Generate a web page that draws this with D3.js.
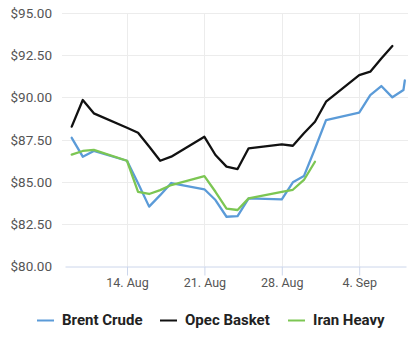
<!DOCTYPE html>
<html><head><meta charset="utf-8">
<script src="https://cdn.jsdelivr.net/npm/d3@7"></script>
<style>
html,body{margin:0;padding:0;background:#fff;}
svg{display:block;font-family:Roboto,"Noto Sans",sans-serif;}
</style></head>
<body>
<svg id="c" width="418" height="351"></svg>
<script>
// ---- data ----
const seriesNames = ["Brent Crude", "Opec Basket", "Iran Heavy"];
const seriesColors = ["#5b9bd8", "#111111", "#7cc653"];
const brentDates = ["2017-08-09","2017-08-10","2017-08-11","2017-08-14","2017-08-15","2017-08-16","2017-08-17","2017-08-18","2017-08-21","2017-08-22","2017-08-23","2017-08-24","2017-08-25","2017-08-28","2017-08-29","2017-08-30","2017-08-31","2017-09-01","2017-09-04","2017-09-05","2017-09-06","2017-09-07","2017-09-08T00:00","2017-09-08T03:00"];
const brentValues = [87.60,86.48,86.82,86.24,84.90,83.52,84.20,84.92,84.55,83.91,82.92,82.96,84.01,83.95,84.96,85.33,86.95,88.65,89.09,90.13,90.67,90.00,90.43,91.00];
const opecDates = ["2017-08-09","2017-08-10","2017-08-11","2017-08-14","2017-08-15","2017-08-16","2017-08-17","2017-08-18","2017-08-21","2017-08-22","2017-08-23","2017-08-24","2017-08-25","2017-08-28","2017-08-29","2017-08-30","2017-08-31","2017-09-01","2017-09-04","2017-09-05","2017-09-06","2017-09-07"];
const opecValues = [88.26,89.84,89.05,88.20,87.90,87.08,86.24,86.48,87.66,86.58,85.89,85.75,86.98,87.21,87.13,87.87,88.55,89.74,91.32,91.52,92.30,93.04];
const iranDates = ["2017-08-09","2017-08-10","2017-08-11","2017-08-14","2017-08-15","2017-08-16","2017-08-17","2017-08-18","2017-08-21","2017-08-22","2017-08-23","2017-08-24","2017-08-25","2017-08-28","2017-08-29","2017-08-30","2017-08-31"];
const iranValues = [86.60,86.82,86.88,86.24,84.40,84.27,84.50,84.80,85.33,84.40,83.40,83.32,84.01,84.40,84.52,85.10,86.18];
const yTicks = [80, 82.5, 85, 87.5, 90, 92.5, 95];
const xTickDates = ["2017-08-14","2017-08-21","2017-08-28","2017-09-04"];
const xTickLabels = ["14. Aug","21. Aug","28. Aug","4. Sep"];

// ---- layout ----
const svg = d3.select("#c");
const plotLeft = 65, plotRight = 406, plotTop = 13, plotBottom = 266;
const parse = s => new Date(s.length > 10 ? s + ":00" : s + "T00:00:00");

const x0 = d3.scaleTime().domain([parse("2017-08-14"), parse("2017-09-04")]).range([127, 359.2]);
const x = d3.scaleTime().domain([x0.invert(plotLeft), x0.invert(plotRight)]).range([plotLeft, plotRight]);
const y = d3.scaleLinear().domain([80, 95]).range([plotBottom, plotTop]);

// horizontal grid
svg.append("g").selectAll("line").data(yTicks.slice(1)).join("line")
  .attr("x1", 62).attr("x2", plotRight + 2)
  .attr("y1", d => Math.round(y(d)) + 0.5).attr("y2", d => Math.round(y(d)) + 0.5)
  .attr("stroke", "#ececec").attr("stroke-width", 1);
// vertical grid
svg.append("g").selectAll("line").data(xTickDates).join("line")
  .attr("x1", d => Math.round(x(parse(d))) + 0.5).attr("x2", d => Math.round(x(parse(d))) + 0.5)
  .attr("y1", plotTop).attr("y2", plotBottom)
  .attr("stroke", "#ececec").attr("stroke-width", 1);

// y labels
const yAxis = d3.axisLeft(y).tickValues(yTicks).tickSize(0).tickPadding(0)
  .tickFormat(d => "$" + d3.format(".2f")(d));
const gy = svg.append("g").attr("transform", "translate(52,0)").call(yAxis);
gy.select(".domain").remove();
gy.selectAll("text").attr("fill", "#555").style("font-size", "13.5px").style("font-family", "Roboto, sans-serif").attr("dy", "0.34em");

// x axis
const xAxis = d3.axisBottom(x).tickValues(xTickDates.map(parse)).tickSize(9).tickSizeOuter(0).tickPadding(3)
  .tickFormat((d, i) => xTickLabels[i]);
const gx = svg.append("g").attr("transform", `translate(0,${plotBottom + 0.5})`).call(xAxis);
gx.select(".domain").attr("stroke", "#ccd6eb");
gx.selectAll(".tick line").attr("stroke", "#ccd6eb");
gx.selectAll("text").attr("fill", "#555").style("font-size", "12.5px").style("font-family", "Roboto, sans-serif");

// lines
const line = d3.line().x(d => x(d[0])).y(d => y(d[1]));
const allSeries = [
  {dates: brentDates, values: brentValues},
  {dates: opecDates, values: opecValues},
  {dates: iranDates, values: iranValues}
];
const drawOrder = [1, 0, 2];
drawOrder.forEach(i => {
  const s = allSeries[i];
  const pts = s.dates.map((d, j) => [parse(d), s.values[j]]);
  svg.append("path").datum(pts).attr("d", line)
    .attr("fill", "none").attr("stroke", seriesColors[i]).attr("stroke-width", 2.3)
    .attr("stroke-linejoin", "round").attr("stroke-linecap", "round");
});

// legend
const legendX = [37, 160, 288];
const lg = svg.append("g").attr("transform", "translate(0,320)");
seriesNames.forEach((n, i) => {
  const g = lg.append("g").attr("transform", `translate(${legendX[i]},0)`);
  g.append("line").attr("x1", 0).attr("x2", 17).attr("y1", 0.5).attr("y2", 0.5)
    .attr("stroke", seriesColors[i]).attr("stroke-width", 2);
  g.append("text").attr("x", 25).attr("y", 0).attr("dy", "0.35em")
    .attr("fill", "#222").style("font-size", "15px").style("font-weight", "bold")
    .style("font-family", "Roboto, sans-serif").text(n);
});
</script>
</body></html>
